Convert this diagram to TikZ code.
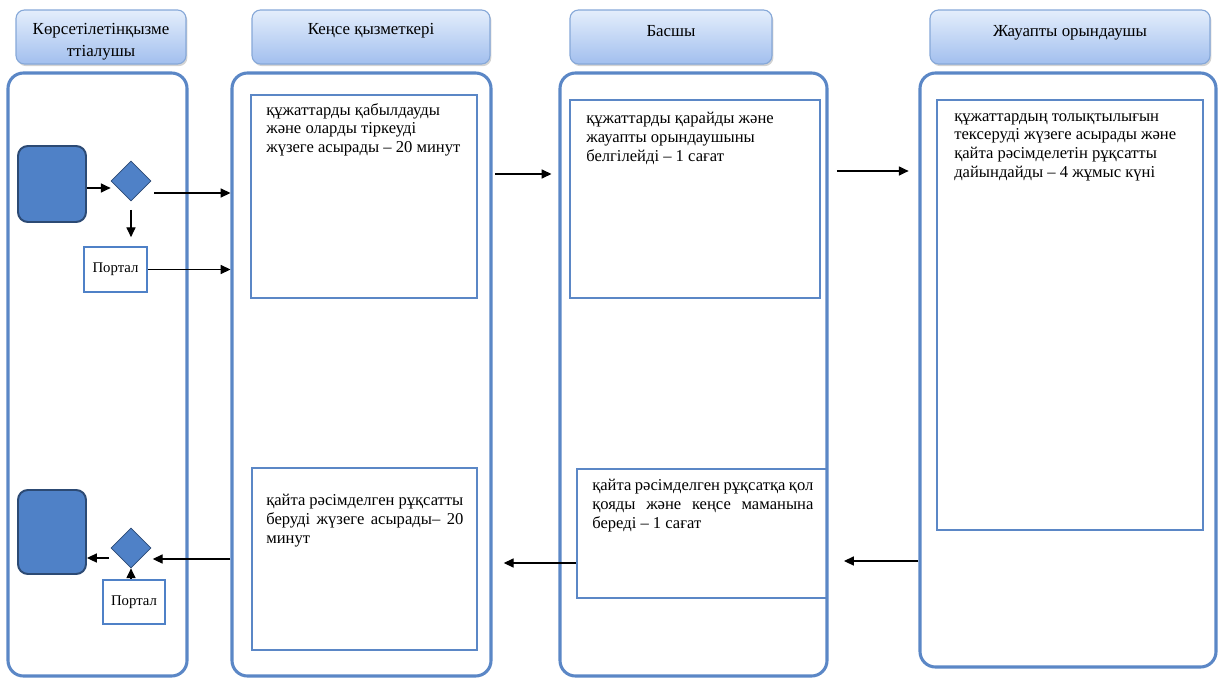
\documentclass[tikz,border=0pt]{standalone}
\usepackage{fontspec}
\setmainfont{Liberation Serif}
\usetikzlibrary{fit,shapes,calc,positioning,arrows.meta,shadows}

\definecolor{laneblue}{HTML}{5B87C6}
\definecolor{fillblue}{HTML}{4F81C7}
\definecolor{darkblue}{HTML}{2C4A74}
\definecolor{hdtop}{HTML}{E4EEFC}
\definecolor{hdbot}{HTML}{A2BFEE}
\definecolor{hdline}{HTML}{86A8D8}

\begin{document}
\begin{tikzpicture}[x=0.025cm,y=-0.025cm,
  lane/.style={draw=laneblue,line width=2.2pt,rounded corners=11pt,inner sep=0pt},
  head/.style={draw=hdline,line width=0.8pt,rounded corners=6pt,top color=hdtop,bottom color=hdbot,inner sep=0pt,
               drop shadow={opacity=0.35,shadow xshift=1pt,shadow yshift=-1.5pt}},
  htext/.style={font=\fontsize{12}{15.5}\selectfont,align=center,anchor=north,inner sep=0pt},
  task/.style={draw=laneblue,line width=2pt,inner sep=0pt},
  ttext/.style={font=\fontsize{11.8}{13.3}\selectfont,anchor=north west,inner sep=0pt,align=left},
  client/.style={draw=darkblue,fill=fillblue,line width=1.4pt,rounded corners=7pt,inner sep=0pt},
  gate/.style={diamond,draw=darkblue,fill=fillblue,line width=0.5pt,minimum size=1cm,inner sep=0pt},
  portal/.style={draw=fillblue,line width=2pt,font=\fontsize{10.5}{12}\selectfont,inner sep=0pt},
  arr/.style={-{Triangle[length=7pt,width=6.5pt]},line width=0.8pt}]
\useasboundingbox (0,0) rectangle (1220,677);

% headers
\node[head,fit={(16,10)(186,64)}] (h1) {};
\node[head,fit={(252,10)(490,64)}] (h2) {};
\node[head,fit={(570,10)(772,64)}] (h3) {};
\node[head,fit={(930,10)(1210,64)}] (h4) {};
\node[htext] (t1) at ([yshift=-9.5pt]h1.north) {Көрсетілетінқызме\\ттіалушы};
\node[htext] (t2) at ([yshift=-9.5pt]h2.north) {Кеңсе қызметкері};
\node[htext] (t3) at ([yshift=-11pt]h3.north) {Басшы};
\node[htext] (t4) at ([yshift=-11pt]h4.north) {Жауапты орындаушы};

% lanes
\node[lane,fit={(8,73)(187,676)}] (l1) {};
\node[lane,fit={(232,73)(491,676)}] (l2) {};
\node[lane,fit={(560,73)(827,676)}] (l3) {};
\node[lane,fit={(920,73)(1216,667)}] (l4) {};

% tasks
\node[task,fit={(251,95)(477,298)}] (b1) {};
\node[task,fit={(570,100)(820,298)}] (b2) {};
\node[task,fit={(937,100)(1203,530)}] (b3) {};
\node[task,fit={(252,468)(477,650)}] (b4) {};
\node[task,fit={(577,469)(827,598)}] (b5) {};
\node[ttext] (x1) at (266,103) {құжаттарды қабылдауды\\және оларды тіркеуді\\жүзеге асырады – 20 минут};
\node[ttext] (x2) at (586,112) {құжаттарды қарайды және\\жауапты орындаушыны\\белгілейді – 1 сағат};
\node[ttext] (x3) at (954,113) {құжаттардың толықтылығын\\тексеруді жүзеге асырады және\\қайта рәсімделетін рұқсатты\\дайындайды – 4 жұмыс күні};
\node[ttext] (x4) at (266,494) {\makebox[4.925cm][s]{қайта рәсімделген рұқсатты}\\\makebox[4.925cm][s]{беруді жүзеге асырады– 20}\\минут};
\node[ttext] (x5) at (592,479) {\makebox[5.525cm][s]{қайта рәсімделген рұқсатқа қол}\\\makebox[5.525cm][s]{қояды және кеңсе маманына}\\береді – 1 сағат};

% client side
\node[client,fit={(18,146)(86,222)}] (c1) {};
\node[gate] (d1) at (131,181) {};
\node[portal,minimum width=1.575cm,minimum height=1.125cm] (p1) at (115.5,269.5) {Портал};
\node[client,fit={(18,490)(86,574)}] (c2) {};
\node[gate] (d2) at (131,548) {};
\node[portal,minimum width=1.55cm,minimum height=1.1cm] (p2) at (134,602) {Портал};

% connectors
\draw[arr] (c1.east |- 0,188) -- (d1.west |- 0,188);
\draw[arr,shorten <=2pt] (d1.east |- 0,193) -- (l2.west |- 0,193);
\draw[arr,shorten <=6pt,shorten >=6pt] (d1.south) -- (d1.south |- p1.north);
\draw[arr] (p1.east) -- (p1.east -| l2.west);
\draw[arr,shorten <=2pt,shorten >=5pt] (l2.east |- 0,174) -- (l3.west |- 0,174);
\draw[arr,shorten <=6pt,shorten >=7pt] (l3.east |- 0,171) -- (l4.west |- 0,171);
\draw[arr,shorten >=11pt] (l4.west |- 0,561) -- (l3.east |- 0,561);
\draw[arr,shorten >=8pt] (b5.west |- 0,563) -- (l2.east |- 0,563);
\draw[arr,shorten >=1pt] (l2.west |- 0,559) -- (d2.east |- 0,559);
\draw[arr,shorten <=1pt] (d2.west |- 0,558) -- (c2.east |- 0,558);
\draw[arr] (p2.north -| d2.south) -- (d2.south);
\end{tikzpicture}
\end{document}
